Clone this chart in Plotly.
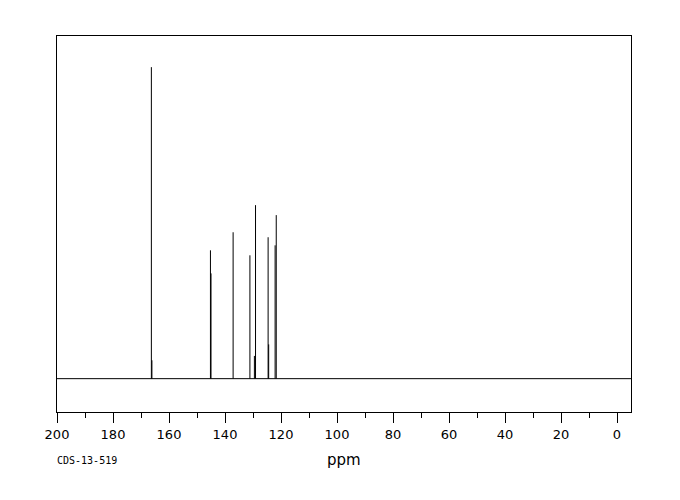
import plotly.graph_objects as go

# peak positions (ppm) and relative intensities (% of tallest line)
peak_ppm = [166.3, 166.1, 145.2, 145.0, 137.1, 131.1, 129.5, 129.1, 124.6, 124.4, 122.1, 121.7]
peak_int = [100.0, 5.9, 41.2, 33.8, 47.0, 39.6, 7.3, 55.7, 45.4, 11.0, 42.8, 52.5]

# baseline ends (ppm)
base_ppm = [200, -5]
base_int = [0, 0]

x_ticks = [200, 180, 160, 140, 120, 100, 80, 60, 40, 20, 0]

# stick spectrum: one vertical line per peak
xs, ys = [], []
for p, h in zip(peak_ppm, peak_int):
    xs += [p, p, None]
    ys += [0, h, None]

fig = go.Figure()
fig.add_trace(go.Scatter(x=base_ppm, y=base_int, mode='lines',
                         line=dict(color='black', width=1), hoverinfo='skip'))
fig.add_trace(go.Scatter(x=xs, y=ys, mode='lines',
                         line=dict(color='black', width=1), name='13C'))

# page body has an 8px margin, so margins are trimmed to land the box where the reference has it
fig.update_layout(width=680, height=500,
                  margin=dict(l=49, r=57, t=28, b=96),
                  plot_bgcolor='white', paper_bgcolor='white',
                  showlegend=False,
                  font=dict(family='DejaVu Sans', color='black'))

fig.update_xaxes(range=[200, -5], tickvals=x_ticks, ticks='outside', ticklen=10,
                 tickcolor='black', tickwidth=1,
                 minor=dict(dtick=10, tick0=0, ticks='outside', ticklen=5, tickcolor='black'),
                 showgrid=False, zeroline=False,
                 showline=True, linecolor='black', linewidth=1, mirror=True,
                 tickfont=dict(size=13))
fig.update_yaxes(range=[-10.7, 110], showticklabels=False, ticks='',
                 showgrid=False, zeroline=False,
                 showline=True, linecolor='black', linewidth=1, mirror=True)

fig.add_annotation(text='ppm', x=0.5, y=-0.128, xref='paper', yref='paper',
                   xanchor='center', yanchor='middle', showarrow=False,
                   font=dict(size=15, family='DejaVu Sans'))
fig.add_annotation(text='CDS-13-519', x=-0.004, y=-0.13, xref='paper', yref='paper',
                   xanchor='left', yanchor='middle', showarrow=False,
                   font=dict(size=10, family='DejaVu Sans Mono'))

fig.write_html("out.html")
